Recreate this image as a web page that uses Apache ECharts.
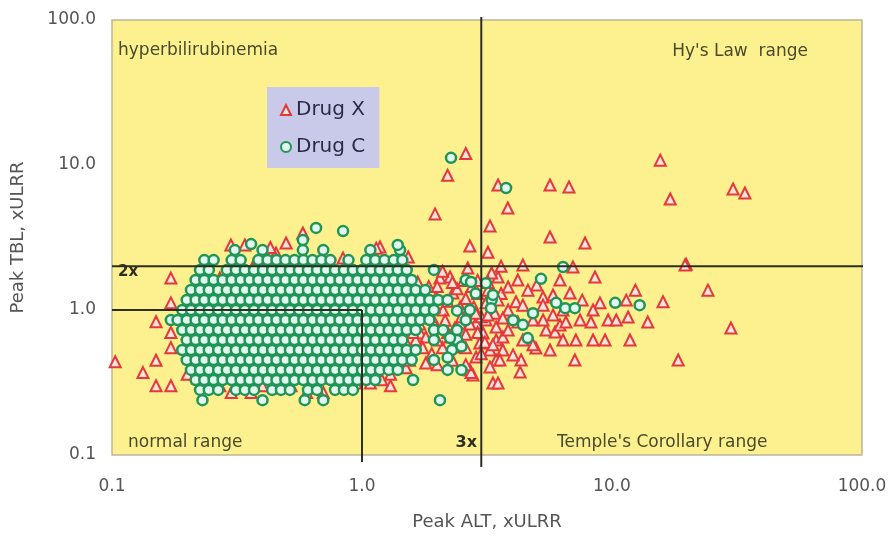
<!DOCTYPE html>
<html>
<head>
<meta charset="utf-8">
<script src="https://cdn.jsdelivr.net/npm/echarts@6/dist/echarts.min.js"></script>
<style>html,body{margin:0;padding:0;background:#fff;}#c{width:893px;height:540px;}</style>
</head>
<body>
<div id="c"></div>
<script>
// ---- Data (Peak ALT xULRR, Peak TBL xULRR) ----
const seriesNames = ['Drug X', 'Drug C'];
const xTicks = ['0.1', '1.0', '10.0', '100.0'];
const yTicks = ['0.1', '1.0', '10.0', '100.0'];

// Drug C: rows of the dense cluster (TBL value per row, ALT values in that row)
const drugC_rowTBL = [2.59, 2.21, 1.89, 1.61, 1.374, 1.172, 1.0, 0.853, 0.728, 0.621, 0.530, 0.452, 0.386, 0.329, 0.281, 0.239];
const drugC_rowALT = [
  [0.31, 0.40, 0.58, 0.70, 1.08, 1.42],
  [0.234, 0.255, 0.301, 0.327, 0.385, 0.419, 0.455, 0.494, 0.537, 0.583, 0.634, 0.688, 0.748, 0.883, 1.04, 1.13, 1.23, 1.34, 1.45],
  [0.225, 0.244, 0.288, 0.313, 0.340, 0.370, 0.402, 0.437, 0.474, 0.515, 0.560, 0.608, 0.661, 0.718, 0.780, 0.847, 0.920, 1.0, 1.086, 1.18, 1.28, 1.39, 1.51, 1.94],
  [0.216, 0.234, 0.255, 0.277, 0.301, 0.327, 0.355, 0.385, 0.419, 0.455, 0.494, 0.537, 0.583, 0.634, 0.688, 0.748, 0.813, 0.883, 0.959, 1.04, 1.13, 1.23, 1.34, 1.45, 1.58, 2.6],
  [0.207, 0.225, 0.244, 0.266, 0.288, 0.313, 0.340, 0.370, 0.402, 0.437, 0.474, 0.515, 0.560, 0.608, 0.661, 0.718, 0.780, 0.847, 0.920, 1.0, 1.086, 1.18, 1.28, 1.39, 1.51, 1.64, 1.79],
  [0.199, 0.216, 0.234, 0.255, 0.277, 0.301, 0.327, 0.355, 0.385, 0.419, 0.455, 0.494, 0.537, 0.583, 0.634, 0.688, 0.748, 0.813, 0.883, 0.959, 1.04, 1.13, 1.23, 1.34, 1.45, 1.58, 1.71, 1.86, 2.02, 2.20, 3.3],
  [0.191, 0.207, 0.225, 0.244, 0.266, 0.288, 0.313, 0.340, 0.370, 0.402, 0.437, 0.474, 0.515, 0.560, 0.608, 0.661, 0.718, 0.780, 0.847, 0.920, 1.0, 1.086, 1.18, 1.28, 1.39, 1.51, 1.64, 1.79, 1.94, 2.7],
  [0.172, 0.183, 0.199, 0.216, 0.234, 0.255, 0.277, 0.301, 0.327, 0.355, 0.385, 0.419, 0.455, 0.494, 0.537, 0.583, 0.634, 0.688, 0.748, 0.813, 0.883, 0.959, 1.04, 1.13, 1.23, 1.34, 1.45, 1.58, 1.71, 1.86],
  [0.191, 0.207, 0.225, 0.244, 0.266, 0.288, 0.313, 0.340, 0.370, 0.402, 0.437, 0.474, 0.515, 0.560, 0.608, 0.661, 0.718, 0.780, 0.847, 0.920, 1.0, 1.086, 1.18, 1.28, 1.39, 1.51, 1.64, 1.94, 2.11, 2.4],
  [0.199, 0.216, 0.234, 0.255, 0.277, 0.301, 0.327, 0.355, 0.385, 0.419, 0.455, 0.494, 0.537, 0.583, 0.634, 0.688, 0.748, 0.813, 0.883, 0.959, 1.04, 1.13, 1.23, 1.34, 1.45, 1.94, 2.4],
  [0.191, 0.207, 0.225, 0.244, 0.266, 0.288, 0.313, 0.340, 0.370, 0.402, 0.437, 0.474, 0.515, 0.560, 0.608, 0.661, 0.718, 0.780, 0.847, 0.920, 1.0, 1.086, 1.18, 1.28, 1.39, 1.51, 1.64, 2.29],
  [0.199, 0.216, 0.234, 0.255, 0.277, 0.301, 0.327, 0.355, 0.385, 0.419, 0.455, 0.494, 0.537, 0.583, 0.634, 0.688, 0.748, 0.813, 0.883, 0.959, 1.04, 1.13, 1.23, 1.34, 1.45, 1.58, 1.94],
  [0.207, 0.225, 0.244, 0.266, 0.288, 0.313, 0.340, 0.370, 0.402, 0.437, 0.474, 0.515, 0.560, 0.608, 0.661, 0.718, 0.780, 0.847, 0.920, 1.0, 1.086, 1.18, 1.28, 1.39, 2.2, 2.5],
  [0.216, 0.234, 0.255, 0.277, 0.301, 0.327, 0.355, 0.385, 0.419, 0.455, 0.494, 0.537, 0.583, 0.634, 0.688, 0.748, 0.813, 0.883, 0.959, 1.04, 1.13, 1.6],
  [0.225, 0.244, 0.266, 0.313, 0.340, 0.370, 0.437, 0.474, 0.515, 0.608, 0.661, 0.780, 0.847, 0.920],
  [0.23, 0.40, 0.59, 0.70, 2.05]
];
// Drug C: scattered points outside the rows
const drugC_extra = [
  [0.655, 3.68], [0.84, 3.5], [0.58, 3.04], [1.39, 2.81], [0.36, 2.85], [2.27, 11.2], [3.77, 6.94],
  [6.37, 1.98], [5.2, 1.64], [3.34, 1.27], [3.13, 1.53], [3.28, 1.03], [4.02, 0.85], [4.4, 0.79],
  [4.6, 0.64], [4.83, 0.95], [5.98, 1.12], [6.5, 1.03], [7.1, 1.03], [10.3, 1.12], [12.9, 1.08],
  [2.73, 1.56], [2.85, 1.3], [2.6, 0.85], [2.4, 0.99], [2.25, 0.64], [2.5, 0.56], [2.2, 0.47]
];

// Drug X points
const drugX = [
  // high TBL
  [2.6, 12], [2.2, 8.5], [1.96, 4.6], [3.5, 7.28], [3.83, 5.05], [3.25, 3.8], [2.7, 2.76], [3.19, 2.5],
  [5.65, 7.28], [6.73, 7.05], [15.6, 10.8], [17.1, 5.83], [30.5, 6.83], [34, 6.41], [5.65, 3.19],
  [7.8, 2.9], [19.8, 2.07],
  // upper-left edge of cluster
  [0.299, 2.81], [0.34, 2.81], [0.58, 3.4], [0.497, 2.9], [0.453, 2.47], [1.18, 2.72], [1.53, 2.32],
  [1.14, 2.67], [0.84, 2.28], [0.43, 2.7], [0.40, 2.1], [0.366, 1.98], [0.29, 1.66], [0.277, 1.5],
  [0.253, 1.42], [0.237, 1.2], [0.21, 1.15], [0.27, 1.66], [0.19, 0.95], [0.356, 1.21],
  // left edge
  [0.103, 0.44], [0.133, 0.37], [0.15, 0.30], [0.172, 0.30], [0.15, 0.45], [0.172, 0.55], [0.15, 0.83],
  [0.172, 1.12], [0.172, 1.66], [0.172, 0.70], [0.2, 0.36], [0.22, 0.34],
  // bottom edge
  [0.253, 0.295], [0.30, 0.27], [0.36, 0.27], [0.60, 0.27], [0.70, 0.27], [0.946, 0.314], [1.08, 0.314],
  [1.3, 0.30], [0.27, 0.30], [0.40, 0.30], [0.46, 0.29], [0.52, 0.30], [0.66, 0.29], [0.82, 0.30],
  [1.2, 0.33], [1.3, 0.36], [1.5, 0.40], [1.4, 0.5], [1.55, 0.45],
  // transition zone 1.2 - 3.5
  [1.21, 1.83], [1.33, 1.69], [1.46, 1.56], [1.67, 1.56], [2.05, 1.66], [2.25, 1.69], [2.65, 1.95],
  [3.50, 1.69], [1.75, 1.31], [1.98, 1.23], [2.31, 1.31], [2.47, 1.05], [2.11, 1.0], [2.70, 1.0],
  [3.13, 1.12], [3.13, 0.853], [2.86, 0.814], [2.47, 0.814], [3.44, 0.764], [3.05, 0.694], [1.71, 0.694],
  [1.80, 0.652], [1.64, 0.621], [2.25, 0.652], [2.96, 0.592], [3.44, 0.621], [2.54, 0.556], [3.25, 0.530],
  [2.86, 0.474], [3.44, 0.452], [3.25, 0.405], [2.70, 0.386], [2.78, 0.356], [3.34, 0.314], [1.80, 0.431],
  [2.73, 0.37], [1.55, 1.2], [1.6, 0.95], [1.7, 0.8], [1.9, 0.9], [2.0, 0.75], [2.2, 1.15], [2.4, 1.4],
  [2.6, 1.2], [2.9, 1.3], [2.8, 1.05], [3.0, 0.9], [2.6, 0.68], [2.1, 0.55], [2.3, 0.45], [2.0, 0.42],
  [1.9, 0.5], [2.6, 0.42], [3.0, 0.5], [1.85, 1.45], [2.1, 1.85], [2.9, 1.6], [3.3, 1.8], [3.6, 2.0],
  [1.45, 0.9], [1.6, 1.1], [1.75, 1.0], [1.95, 1.05], [2.15, 0.85], [2.35, 0.75], [2.5, 0.9], [2.7, 0.8],
  [2.9, 0.7], [3.1, 0.6], [2.4, 0.6], [2.0, 0.62], [1.75, 0.55], [2.2, 0.7], [2.6, 0.55], [2.85, 0.95],
  [2.0, 1.45], [2.3, 1.55], [2.55, 1.6], [2.75, 1.45], [1.6, 0.7], [1.5, 0.6], [3.4, 0.95], [3.6, 1.3],
  [3.2, 1.55],
  // right of 3x
  [19.6, 2.04], [24.2, 1.37], [12.4, 1.37], [16.0, 1.14], [13.9, 0.826], [11.8, 0.621], [18.4, 0.452],
  [7.1, 0.452], [3.50, 0.314], [4.29, 0.373], [4.33, 0.452], [8.55, 1.69], [11.4, 1.17], [11.6, 0.895],
  [9.65, 0.853], [10.4, 0.853], [9.38, 0.621], [8.40, 0.621], [8.95, 1.12], [8.40, 1.0], [7.17, 0.621],
  [6.37, 0.621], [6.79, 1.31], [6.19, 1.61], [4.61, 1.37], [6.98, 1.98], [3.84, 1.44], [4.13, 1.14],
  [5.30, 1.23], [5.45, 0.728], [5.92, 0.705], [4.96, 0.547], [5.65, 0.530], [6.19, 0.788], [6.54, 0.826],
  [7.45, 0.853], [8.24, 0.826], [3.66, 0.530], [3.56, 0.452], [4.83, 0.853], [5.30, 0.853], [5.81, 0.924],
  [3.66, 0.652], [29.9, 0.751], [3.19, 1.37], [3.50, 1.17], [3.84, 1.0], [4.40, 1.08], [4.2, 0.826],
  [3.84, 0.728], [4.40, 0.621], [4.83, 0.575], [4.02, 0.49], [3.34, 0.575], [3.19, 0.924], [3.66, 0.88],
  [5.3, 1.08], [6.37, 1.0], [5.81, 1.27], [4.2, 1.61], [5.0, 1.49], [7.6, 1.17], [4.4, 2.04]
];

// Reference lines (data coordinates)
const ref3x = [[3, 0.0826], [3, 105]];
const ref2x = [[0.1, 2], [108, 2]];
const ref1y = [[0.1, 1], [1, 1]];
const ref1x = [[1, 1], [1, 0.0895]];

// ---- build ----
const drugC = [];
drugC_rowTBL.forEach((tbl, i) => drugC_rowALT[i].forEach(alt => drugC.push([alt, tbl])));
drugC_extra.forEach(p => drugC.push(p));

const FONT = 'DejaVu Sans';
const fmt = v => {
  const s = Number(v).toFixed(1);
  return (xTicks.indexOf(s) >= 0 || yTicks.indexOf(s) >= 0) ? s : '';
};
const refLine = (d) => ({
  type: 'line', data: d, clip: false, silent: true, showSymbol: false, symbol: 'none',
  lineStyle: { color: '#2e2e22', width: 2 }, z: 5, animation: false
});

const chart = echarts.init(document.getElementById('c'), null, { renderer: 'canvas' });
chart.setOption({
  animation: false,
  backgroundColor: '#ffffff',
  textStyle: { fontFamily: FONT },
  grid: {
    left: 112, right: 31, top: 20, bottom: 85,
    show: true, backgroundColor: '#fcf08f', borderColor: '#b9b69c', borderWidth: 1.5
  },
  xAxis: {
    type: 'log', logBase: 10, min: 0.1, max: 100,
    name: 'Peak ALT, xULRR', nameLocation: 'middle', nameGap: 58,
    nameTextStyle: { fontSize: 18, color: '#555', fontFamily: FONT },
    axisLine: { show: false }, axisTick: { show: false }, splitLine: { show: false },
    axisLabel: { formatter: fmt, fontSize: 17, color: '#555', margin: 23, showMinLabel: true, showMaxLabel: true, fontFamily: FONT }
  },
  yAxis: {
    type: 'log', logBase: 10, min: 0.1, max: 100,
    name: 'Peak TBL, xULRR', nameLocation: 'middle', nameGap: 85, nameRotate: 90,
    nameTextStyle: { fontSize: 18, color: '#555', fontFamily: FONT },
    axisLine: { show: false }, axisTick: { show: false }, splitLine: { show: false },
    axisLabel: { formatter: fmt, fontSize: 17, color: '#555', margin: 16, showMinLabel: true, showMaxLabel: true, fontFamily: FONT }
  },
  legend: {
    data: [{ name: seriesNames[0], icon: 'triangle' }, { name: seriesNames[1], icon: 'circle' }],
    orient: 'vertical', left: 267, top: 87,
    backgroundColor: '#c9c9ea', padding: [13, 14, 11, 13], itemGap: 17,
    itemWidth: 10, itemHeight: 10,
    textStyle: { fontSize: 20, color: '#2b2b45', fontFamily: FONT }
  },
  graphic: [
    { type: 'text', x: 118, y: 51, style: { text: 'hyperbilirubinemia', fontSize: 17, fontFamily: FONT, fill: '#4a4a2c', align: 'left', verticalAlign: 'middle' }, z: 20 },
    { type: 'text', x: 808, y: 52, style: { text: "Hy's Law  range", fontSize: 17, fontFamily: FONT, fill: '#4a4a2c', align: 'right', verticalAlign: 'middle' }, z: 20 },
    { type: 'text', x: 128, y: 443, style: { text: 'normal range', fontSize: 17, fontFamily: FONT, fill: '#4a4a2c', align: 'left', verticalAlign: 'middle' }, z: 20 },
    { type: 'text', x: 557, y: 443, style: { text: "Temple's Corollary range", fontSize: 17, fontFamily: FONT, fill: '#4a4a2c', align: 'left', verticalAlign: 'middle' }, z: 20 },
    { type: 'text', x: 118, y: 272, style: { text: '2x', fontSize: 15, fontWeight: 'bold', fontFamily: FONT, fill: '#2e2e22', align: 'left', verticalAlign: 'middle' }, z: 20 },
    { type: 'text', x: 477, y: 443, style: { text: '3x', fontSize: 16, fontWeight: 'bold', fontFamily: FONT, fill: '#2e2e22', align: 'right', verticalAlign: 'middle' }, z: 20 }
  ],
  series: [
    {
      name: seriesNames[0], type: 'scatter', data: drugX, symbol: 'triangle', symbolSize: 11,
      itemStyle: { color: '#fbe4dc', borderColor: '#e5383b', borderWidth: 2, opacity: 1 }, z: 3
    },
    {
      name: seriesNames[1], type: 'scatter', data: drugC, symbol: 'circle', symbolSize: 10,
      itemStyle: { color: '#e2f8ef', borderColor: '#1f9557', borderWidth: 2.5, opacity: 1 }, z: 4
    },
    refLine(ref3x), refLine(ref2x), refLine(ref1y), refLine(ref1x)
  ]
});
</script>
</body>
</html>
